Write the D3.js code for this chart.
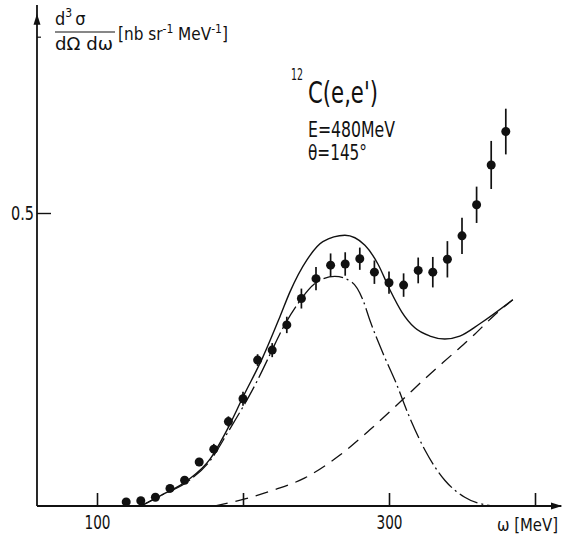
<!DOCTYPE html>
<html>
<head>
<meta charset="utf-8">
<script src="https://cdn.jsdelivr.net/npm/d3@7"></script>
<style>
    body { margin: 0; background: #fff; }
    svg { display: block; }
    text { font-family: "Liberation Sans Narrow", "DejaVu Sans Condensed", "Liberation Sans", sans-serif; fill: #111; }
</style>
</head>
<body>
<script>
// measured cross sections, omega in MeV
var omega = [120, 130, 140, 150, 160, 170, 180, 190, 200, 210, 220, 230, 240, 250,
    260, 270, 280, 290, 300, 310, 320, 330, 340, 350, 360, 370, 380];
var sigma = [0.007, 0.009, 0.015, 0.030, 0.044, 0.075, 0.097, 0.144, 0.183, 0.249, 0.266, 0.309, 0.354, 0.388,
    0.411, 0.413, 0.422, 0.399, 0.381, 0.377, 0.402, 0.399, 0.421, 0.461, 0.514, 0.582, 0.639];
var sigmaErr = [0.003, 0.003, 0.003, 0.005, 0.005, 0.007, 0.009, 0.009, 0.012, 0.010, 0.012, 0.014, 0.017, 0.020,
    0.020, 0.020, 0.019, 0.020, 0.019, 0.020, 0.022, 0.026, 0.031, 0.031, 0.031, 0.041, 0.039];

// full line (total)
var totalOmega = [130, 143, 161.6, 177.4, 189.7, 200, 213.6, 225.3, 232.1, 243.8, 254.7, 269.8, 283.5,
    292.4, 300.6, 308.8, 317.7, 328, 338.2, 348.5, 362.2, 384.8];
var totalSigma = [0, 0.017, 0.043, 0.080, 0.133, 0.186, 0.254, 0.323, 0.365, 0.420, 0.451, 0.462, 0.445,
    0.413, 0.369, 0.331, 0.304, 0.290, 0.285, 0.290, 0.311, 0.352];

// dash-dot line (quasielastic)
var qeOmega = [130, 143, 161.6, 177.4, 189.7, 209.6, 219.9, 225.3, 237, 250.6, 262.9, 274.6, 282.1,
    286.9, 295.8, 304, 314.3, 324.5, 338.2, 351.9, 370.4];
var qeSigma = [0, 0.017, 0.041, 0.077, 0.126, 0.213, 0.266, 0.294, 0.343, 0.382, 0.392, 0.382, 0.352,
    0.317, 0.261, 0.215, 0.150, 0.096, 0.044, 0.015, 0];

// dashed line (delta)
var deltaOmega = [180.8, 201.3, 221.9, 242.4, 266.4, 286.9, 307.4, 328, 343, 357.4, 371.1, 384.8];
var deltaSigma = [0, 0.012, 0.028, 0.048, 0.087, 0.130, 0.177, 0.225, 0.258, 0.290, 0.323, 0.352];

var xTicks = [100, 200, 300, 400];
var xTickLabels = ["100", "", "300", ""];
var yTicks = [0.5];
var yTickLabels = ["0.5"];

var w = 563;
var h = 540;

var x = d3.scaleLinear().domain([100, 400]).range([97, 535]);
var y = d3.scaleLinear().domain([0, 0.5]).range([506, 213]);

var svg = d3.select("body")
    .append("svg")
    .attr("width", w)
    .attr("height", h);

function pairs(xs, ys) {
    return xs.map(function (d, i) { return [d, ys[i]]; });
}

// squeeze text to the narrow lettering of the original
function narrow(sel, len) {
    sel.attr("textLength", len).attr("lengthAdjust", "spacingAndGlyphs");
}

// axes
var xAxis = d3.axisBottom(x)
    .tickValues(xTicks)
    .tickFormat(function (d, i) { return xTickLabels[i]; })
    .tickSize(-13)
    .tickPadding(10);

var gx = svg.append("g")
    .attr("transform", "translate(0," + y(0) + ")")
    .call(xAxis);
gx.select(".domain").remove();
gx.selectAll("line").attr("stroke", "#111").attr("stroke-width", 1.6);
gx.selectAll("text").style("font-size", "19px").attr("fill", "#111")
    .filter(function (d, i) { return xTickLabels[i] != ""; })
    .call(narrow, 26);

var yAxis = d3.axisLeft(y)
    .tickValues(yTicks)
    .tickFormat(function (d, i) { return yTickLabels[i]; })
    .tickSize(-14)
    .tickPadding(3);

var gy = svg.append("g")
    .attr("transform", "translate(" + x(58.9) + ",0)")
    .call(yAxis);
gy.select(".domain").remove();
gy.selectAll("line").attr("stroke", "#111").attr("stroke-width", 1.4);
gy.selectAll("text").style("font-size", "20px").attr("fill", "#111").call(narrow, 23);

// axis lines with arrows
var x0 = x(58.9);
svg.append("line")
    .attr("x1", x0).attr("x2", x(418))
    .attr("y1", y(0)).attr("y2", y(0))
    .attr("stroke", "#111").attr("stroke-width", 2);
svg.append("path")
    .attr("d", "M" + x(418.5) + "," + y(0) + "l-11,-3.5l0,7z")
    .attr("fill", "#111");

svg.append("line")
    .attr("x1", x0).attr("x2", x0)
    .attr("y1", y(0)).attr("y2", y(0.855))
    .attr("stroke", "#111").attr("stroke-width", 1.8);
svg.append("path")
    .attr("d", "M" + x0 + "," + y(0.84) + "l-3.5,11l7,0z")
    .attr("fill", "#111");
svg.append("line")
    .attr("x1", x0).attr("x2", x0 + 4)
    .attr("y1", y(0.8)).attr("y2", y(0.8))
    .attr("stroke", "#111").attr("stroke-width", 1.2);

// curves
var line = d3.line()
    .x(function (d) { return x(d[0]); })
    .y(function (d) { return y(d[1]); })
    .curve(d3.curveMonotoneX);

svg.append("path")
    .datum(pairs(totalOmega, totalSigma))
    .attr("d", line)
    .attr("fill", "none")
    .attr("stroke", "#111")
    .attr("stroke-width", 1.4);

svg.append("path")
    .datum(pairs(qeOmega, qeSigma))
    .attr("d", line)
    .attr("fill", "none")
    .attr("stroke", "#111")
    .attr("stroke-width", 1.3)
    .attr("stroke-dasharray", "20,4,2,4");

svg.append("path")
    .datum(pairs(deltaOmega, deltaSigma))
    .attr("d", line)
    .attr("fill", "none")
    .attr("stroke", "#111")
    .attr("stroke-width", 1.3)
    .attr("stroke-dasharray", "13,8");

// data points with error bars
var points = pairs(omega, sigma);

svg.selectAll(".err")
    .data(points)
    .enter()
    .append("line")
    .attr("class", "err")
    .attr("x1", function (d) { return x(d[0]); })
    .attr("x2", function (d) { return x(d[0]); })
    .attr("y1", function (d, i) { return y(d[1] - sigmaErr[i]); })
    .attr("y2", function (d, i) { return y(d[1] + sigmaErr[i]); })
    .attr("stroke", "#111")
    .attr("stroke-width", 1.7);

svg.selectAll(".pt")
    .data(points)
    .enter()
    .append("circle")
    .attr("class", "pt")
    .attr("cx", function (d) { return x(d[0]); })
    .attr("cy", function (d) { return y(d[1]); })
    .attr("r", 4.5)
    .attr("fill", "#111");

// axis titles
var ylab = svg.append("g");
ylab.append("text")
    .attr("x", 55).attr("y", 25)
    .style("font-size", "18px")
    .html('d<tspan dy="-8" font-size="12px">3</tspan><tspan dy="8" dx="3">σ</tspan>');
ylab.append("line")
    .attr("x1", 55).attr("x2", 115)
    .attr("y1", 32).attr("y2", 32)
    .attr("stroke", "#111").attr("stroke-width", 1.2);
ylab.append("text")
    .attr("x", 55).attr("y", 50)
    .style("font-size", "18px")
    .text("dΩ dω")
    .call(narrow, 58);
ylab.append("text")
    .attr("x", 118).attr("y", 40)
    .style("font-size", "17px")
    .html('[nb sr<tspan dy="-7" font-size="12px">-1</tspan><tspan dy="7"> MeV</tspan><tspan dy="-7" font-size="12px">-1</tspan><tspan dy="7">]</tspan>');

svg.append("text")
    .attr("x", 497).attr("y", 531)
    .style("font-size", "18px")
    .text("ω [MeV]")
    .call(narrow, 61);

// reaction label
svg.append("text")
    .attr("x", 291).attr("y", 80)
    .style("font-size", "15px")
    .text("12")
    .call(narrow, 12);
svg.append("text")
    .attr("x", 308).attr("y", 103)
    .style("font-size", "31px")
    .text("C(e,e')")
    .call(narrow, 70);
svg.append("text")
    .attr("x", 308).attr("y", 137)
    .style("font-size", "21px")
    .text("E=480MeV")
    .call(narrow, 87);
svg.append("text")
    .attr("x", 308).attr("y", 160)
    .style("font-size", "21px")
    .text("θ=145°")
    .call(narrow, 59);
</script>
</body>
</html>
